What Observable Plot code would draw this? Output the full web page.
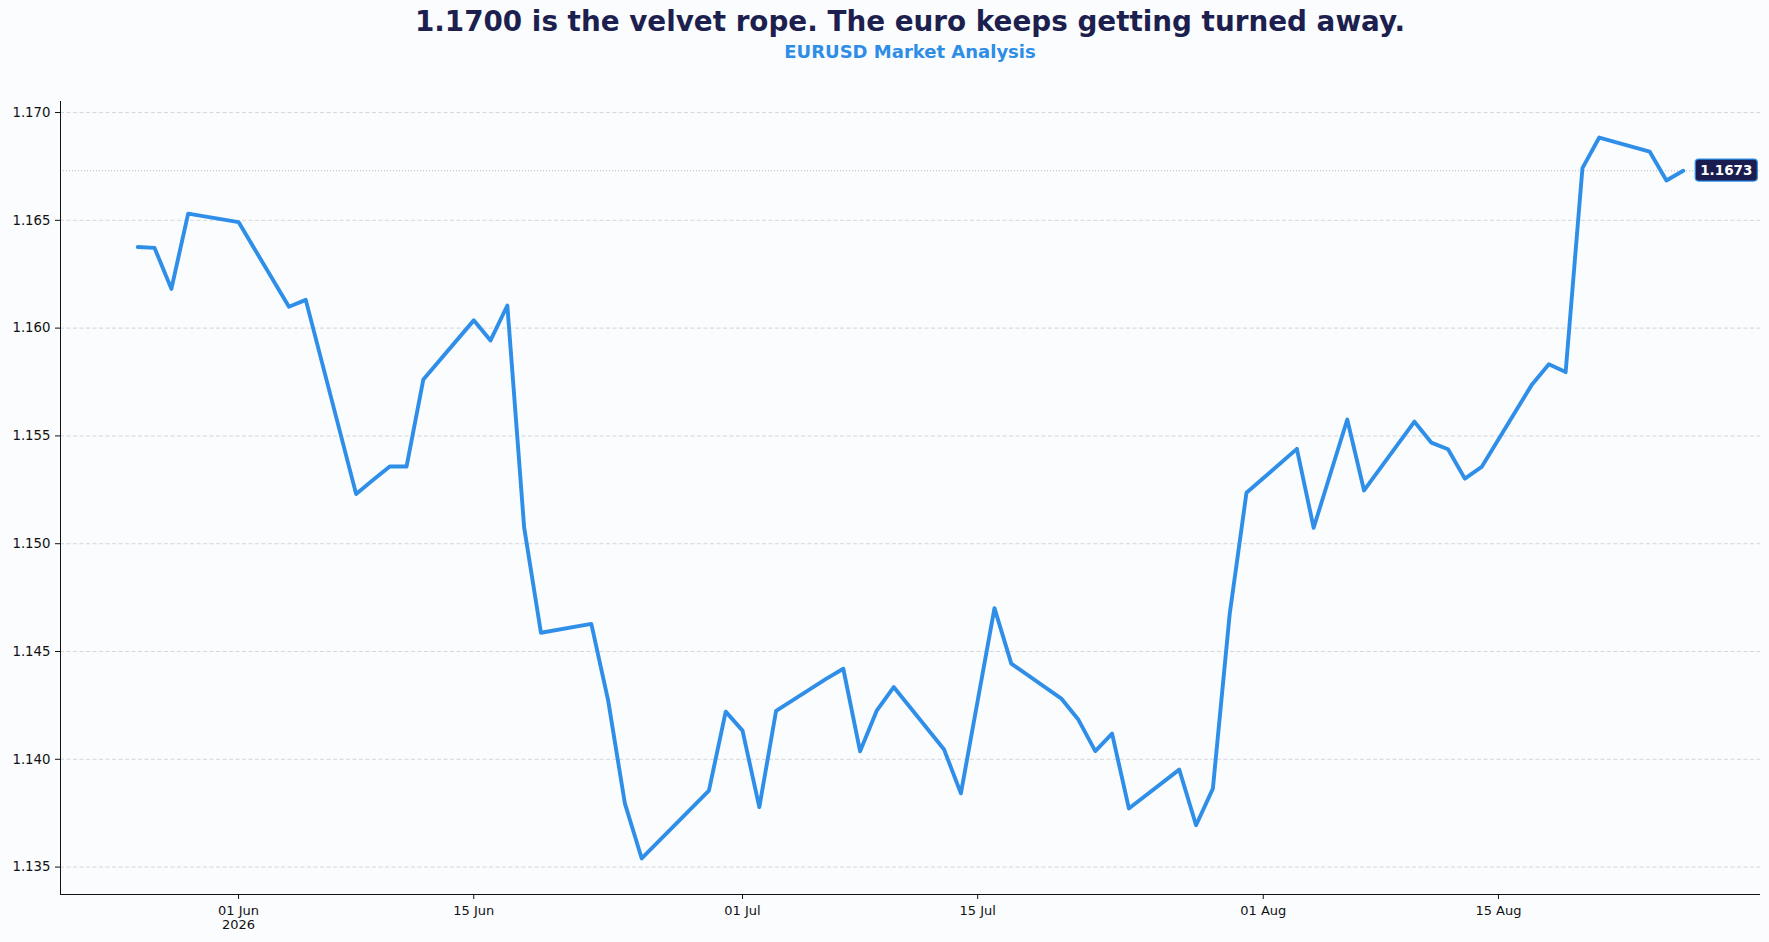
<!DOCTYPE html>
<html>
<head>
<meta charset="utf-8">
<script src="https://cdn.jsdelivr.net/npm/d3@7"></script>
<script src="https://cdn.jsdelivr.net/npm/@observablehq/plot@0.6"></script>
<style>
  html, body { margin: 0; padding: 0; background: #fafcfe; }
  #wrap { position: relative; width: 1769px; height: 942px; font-family: "DejaVu Sans", sans-serif; overflow: hidden; }
  #head { position: relative; width: 1769px; height: 70px; }
  #title { position: absolute; left: 60px; width: 1700px; top: 8px; text-align: center;
           font-size: 27.8px; line-height: 28px; font-weight: bold; color: #1d1f4f; white-space: nowrap; }
  #sub { position: absolute; left: 60px; width: 1700px; top: 43px; text-align: center;
         font-size: 18px; line-height: 18px; font-weight: bold; color: #2e8de6; white-space: nowrap; }
  #chart svg { display: block; }
</style>
</head>
<body>
<div id="wrap">
  <div id="head">
    <div id="title">1.1700 is the velvet rope. The euro keeps getting turned away.</div>
    <div id="sub">EURUSD Market Analysis</div>
  </div>
  <div id="chart"></div>
</div>
<script>
// ---- data ----
const dates = [
  "2026-05-26","2026-05-27","2026-05-28","2026-05-29","2026-06-01","2026-06-04","2026-06-05",
  "2026-06-08","2026-06-09","2026-06-10","2026-06-11","2026-06-12","2026-06-15","2026-06-16",
  "2026-06-17","2026-06-18","2026-06-19","2026-06-22","2026-06-23","2026-06-24","2026-06-25",
  "2026-06-29","2026-06-30","2026-07-01","2026-07-02","2026-07-03","2026-07-06","2026-07-07",
  "2026-07-08","2026-07-09","2026-07-10","2026-07-13","2026-07-14","2026-07-15","2026-07-16",
  "2026-07-17","2026-07-20","2026-07-21","2026-07-22","2026-07-23","2026-07-24","2026-07-27",
  "2026-07-28","2026-07-29","2026-07-30","2026-07-31","2026-08-03","2026-08-04","2026-08-06",
  "2026-08-07","2026-08-10","2026-08-11","2026-08-12","2026-08-13","2026-08-14","2026-08-17",
  "2026-08-18","2026-08-19","2026-08-20","2026-08-21","2026-08-24","2026-08-25","2026-08-26"
];
const closes = [
  1.16376,1.16372,1.16182,1.16531,1.16492,1.16099,1.16131,
  1.15230,1.15295,1.15358,1.15358,1.15762,1.16036,1.15943,
  1.16105,1.15076,1.14587,1.14628,1.14273,1.13794,1.13540,
  1.13855,1.14221,1.14133,1.13778,1.14225,1.14374,1.14420,
  1.14037,1.14227,1.14335,1.14045,1.13842,1.14272,1.14701,
  1.14444,1.14280,1.14183,1.14038,1.14119,1.13772,1.13952,
  1.13694,1.13864,1.14673,1.15236,1.15440,1.15074,1.15576,
  1.15247,1.15566,1.15469,1.15438,1.15302,1.15356,1.15739,
  1.15832,1.15796,1.16742,1.16884,1.16819,1.16685,1.16730
];
const xTickDates = ["2026-06-01","2026-06-15","2026-07-01","2026-07-15","2026-08-01","2026-08-15"];
const yTickValues = [1.135, 1.140, 1.145, 1.150, 1.155, 1.160, 1.165, 1.170];

// ---- build ----
const parse = s => new Date(s + "T00:00:00Z");
const data = dates.map((d, i) => ({date: parse(d), value: closes[i]}));
const last = data[data.length - 1];
const lastText = last.value.toFixed(4);

const xExt = d3.extent(data, d => d.date);
const xPad = (xExt[1] - xExt[0]) * 0.05;
const xDomain = [new Date(+xExt[0] - xPad), new Date(+xExt[1] + xPad)];
const yExt = d3.extent(closes);
const yPad = (yExt[1] - yExt[0]) * 0.05;
const yDomain = [yExt[0] - yPad, yExt[1] + yPad];

const xTicks = xTickDates.map(parse);
const fmtDay = d3.utcFormat("%d %b");
const xFmt = (d, i) => i === 0 ? fmtDay(d) + "\n" + d3.utcFormat("%Y")(d) : fmtDay(d);

const chart = Plot.plot({
  width: 1769,
  height: 872,
  marginTop: 31,
  marginBottom: 48,
  marginLeft: 60,
  marginRight: 9,
  style: {background: "transparent", fontFamily: "DejaVu Sans, sans-serif", color: "#111", fontSize: "13px"},
  x: {type: "utc", domain: xDomain, label: null},
  y: {domain: yDomain, label: null},
  marks: [
    Plot.gridY(yTickValues, {stroke: "#c9cdd3", strokeOpacity: 1, strokeWidth: 0.8, strokeDasharray: "4,2.5"}),
    Plot.ruleY([last.value], {stroke: "#b5b9c0", strokeWidth: 1, strokeDasharray: "1,2"}),
    Plot.line(data, {x: "date", y: "value", stroke: "#2f8fe8", strokeWidth: 3.9}),
    Plot.ruleX([xDomain[0]], {stroke: "#111", strokeWidth: 1}),
    Plot.ruleY([yDomain[0]], {stroke: "#111", strokeWidth: 1}),
    Plot.axisX(xTicks, {tickSize: 5, tickPadding: 5, fontSize: 13, lineHeight: 1.1, tickFormat: xFmt, stroke: "#111", fill: "#111", label: null}),
    Plot.axisY(yTickValues, {tickSize: 5, tickPadding: 5, fontSize: 13.3, tickFormat: d3.format(".3f"), stroke: "#111", fill: "#111", label: null}),
    Plot.text([last], {x: "date", y: "value", text: () => lastText, dx: 17, textAnchor: "start",
                       fill: "white", fontWeight: "bold", fontSize: 13.5})
  ]
});
document.getElementById("chart").appendChild(chart);

// rounded box behind the last-value label
const lbl = d3.select(chart).selectAll("text").filter(function () { return this.textContent === lastText; });
if (!lbl.empty()) {
  const node = lbl.node();
  const b = node.getBBox();
  const tr = node.getAttribute("transform");
  const box = d3.select(node.parentNode).insert("rect", () => node)
    .attr("x", b.x - 5).attr("y", b.y - 3)
    .attr("width", b.width + 10).attr("height", b.height + 6)
    .attr("rx", 3.5).attr("ry", 3.5)
    .attr("fill", "#1b1d50").attr("stroke", "#2f8fe8").attr("stroke-width", 1.2);
  if (tr) box.attr("transform", tr);
}
</script>
</body>
</html>
